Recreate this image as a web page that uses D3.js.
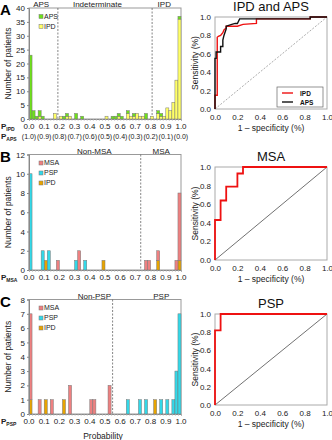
<!DOCTYPE html>
<html><head><meta charset="utf-8">
<script src="https://cdn.jsdelivr.net/npm/d3@7"></script>
<style>body{margin:0;background:#fff}svg{display:block;font-family:"Liberation Sans",Arial,sans-serif}</style>
</head><body><div id="chart"></div>
<script>
// histogram data: bin start (bins are 0.02 wide) and counts per group
var binA = [0.00,0.02,0.04,0.06,0.08,0.16,0.20,0.22,0.24,0.26,0.30,0.34,0.50,0.54,0.56,0.58,0.60,0.64,0.66,0.68,0.70,0.72,0.74,0.76,0.80,0.84,0.86,0.88,0.90,0.92,0.94,0.96,0.98];
var apsA = [23,3,1,2,1,0,0,1,1,0,2,1,0,1,1,1,1,1,0,1,0,0,0,2,0,1,1,0,0,0,0,0,1];
var ipdA = [0,0,0,1,0,2,1,0,1,1,0,0,1,0,0,1,0,2,1,1,2,1,1,0,1,2,1,1,4,3,6,14,36];

var binB = [0.00,0.08,0.10,0.12,0.18,0.30,0.32,0.36,0.48,0.76,0.78,0.84,0.96,0.98];
var msaB = [0,0,0,0,1,0,2,0,0,1,1,1,1,7];
var pspB = [10,2,0,2,0,1,0,1,0,0,0,0,0,0];
var ipdB = [0,0,1,0,0,0,0,0,1,0,0,1,0,1];

var binC = [0.00,0.06,0.10,0.14,0.22,0.26,0.40,0.42,0.52,0.64,0.72,0.76,0.82,0.86,0.90,0.94,0.96,0.98];
var msaC = [6,1,0,1,0,2,1,1,2,0,0,0,0,0,0,0,0,0];
var pspC = [0,0,0,0,0,0,0,0,0,1,1,1,0,1,1,1,3,7];
var ipdC = [1,0,1,0,1,0,0,0,0,0,0,0,1,0,0,0,0,0];

var xTicks = [0,0.1,0.2,0.3,0.4,0.5,0.6,0.7,0.8,0.9,1.0];
var apsTickLabels = ["(1.0)","(0.9)","(0.8)","(0.7)","(0.6)","(0.5)","(0.4)","(0.3)","(0.2)","(0.1)","(0.0)"];
var rocTicks = [0,0.2,0.4,0.6,0.8,1.0];

// ROC curves (false positive rate, true positive rate)
var fprIPD = [0,0,0.02,0.02,0.03,0.05,0.07,0.08,0.10,0.10,0.20,0.25,0.37,0.37,0.85,0.85,1];
var tprIPD = [0,0.15,0.15,0.78,0.79,0.80,0.83,0.86,0.88,0.90,0.90,0.92,0.93,0.98,0.98,1,1];
var fprAPS = [0,0,0.01,0.01,0.05,0.05,0.07,0.07,0.08,0.10,0.10,0.15,0.18,0.20,0.22,0.85,0.85,1];
var tprAPS = [0,0.55,0.55,0.62,0.62,0.68,0.68,0.75,0.80,0.87,0.90,0.92,0.93,0.93,0.98,0.98,1,1];
var fprMSA = [0,0,0.05,0.05,0.10,0.10,0.20,0.20,0.25,0.25,1];
var tprMSA = [0,0.43,0.43,0.64,0.64,0.79,0.79,0.93,0.93,1,1];
var fprPSP = [0,0,0.05,0.05,1];
var tprPSP = [0,0.82,0.82,1,1];

var col = {aps:"#6ee01a", ipdA:"#ffff66", msa:"#ee8080", psp:"#33d8e8", ipd:"#e8a400"};

var svg = d3.select("#chart").append("svg").attr("width",332).attr("height",440);
var x = d3.scaleLinear().domain([0,1]).range([29,181]);
var bw = x(0.02) - x(0);

function hist(o) {
  var g = svg.append("g");
  var y = d3.scaleLinear().domain([0,o.yMax]).range([o.bottom,o.top]);
  var rows = o.bins.map(function(b,i){
    var r = {bin:b};
    o.keys.forEach(function(k){ r[k] = o.vals[k][i]; });
    return r;
  });
  // frame
  g.append("rect").attr("x",x(0)).attr("y",o.top).attr("width",x(1)-x(0)).attr("height",o.bottom-o.top)
    .attr("fill","none").attr("stroke","#999").attr("stroke-width",1);
  // dashed dividers
  o.dash.forEach(function(d){
    g.append("line").attr("x1",x(d)).attr("x2",x(d)).attr("y1",o.top).attr("y2",o.bottom)
      .attr("stroke","#666").attr("stroke-width",0.8).attr("stroke-dasharray","2,1.5");
  });
  var stack = d3.stack().keys(o.keys)(rows);
  g.selectAll("g.s").data(stack).join("g").attr("fill",function(d){return o.colors[d.key];})
    .selectAll("rect").data(function(d){return d.filter(function(p){return p[1]>p[0];});}).join("rect")
    .attr("x",function(d){return x(d.data.bin);}).attr("width",bw)
    .attr("y",function(d){return y(d[1]);}).attr("height",function(d){return y(d[0])-y(d[1]);})
    .attr("stroke","#777").attr("stroke-width",0.5);
  // y axis
  var ya = g.append("g").attr("transform","translate("+x(0)+",0)")
    .call(d3.axisLeft(y).tickValues(o.yTicks).tickSize(2).tickPadding(2));
  ya.select(".domain").attr("stroke","#888");
  ya.selectAll("line").attr("stroke","#888");
  ya.selectAll("text").attr("font-size",8).attr("fill","#222");
  // x axis
  var xa = g.append("g").attr("transform","translate(0,"+o.bottom+")")
    .call(d3.axisBottom(x).tickValues(d3.range(0,1.001,0.02)).tickSize(1.5).tickFormat(""));
  xa.select(".domain").attr("stroke","#888");
  xa.selectAll("line").attr("stroke","#aaa");
  g.selectAll("text.xt").data(xTicks).join("text").attr("class","xt")
    .attr("x",function(d){return x(d);}).attr("y",o.bottom+10).attr("text-anchor","middle")
    .attr("font-size",8).attr("fill","#222").text(d3.format(".1f"));
  var p = g.append("text").attr("x",1).attr("y",o.bottom+10).attr("font-size",8).attr("font-weight","bold").attr("fill","#222");
  p.append("tspan").text("P");
  p.append("tspan").attr("font-size",5).attr("dy",1.5).text(o.psub);
  // y label
  g.append("text").attr("transform","translate(11,"+((o.top+o.bottom)/2)+") rotate(-90)")
    .attr("text-anchor","middle").attr("font-size",8.5).attr("fill","#222").text("Number of patients");
  // region labels
  o.regions.forEach(function(r){
    g.append("text").attr("x",x(r[1])).attr("y",o.top-1).attr("text-anchor","middle")
      .attr("font-size",8).attr("fill","#222").text(r[0]);
  });
  // letter
  g.append("text").attr("x",0).attr("y",o.top+7).attr("font-size",15).attr("font-weight","bold").text(o.letter);
  // legend
  o.legend.forEach(function(k,i){
    var ly = o.top + 10 + i*10;
    g.append("rect").attr("x",39).attr("y",ly-3.5).attr("width",4).attr("height",4)
      .attr("fill",o.colors[k[0]]).attr("stroke","#777").attr("stroke-width",0.5);
    g.append("text").attr("x",44).attr("y",ly+0.5).attr("font-size",7).attr("fill","#222").text(k[1]);
  });
  return g;
}

var gA = hist({top:8,bottom:119,yMax:40,yTicks:[0,5,10,15,20,25,30,35,40],bins:binA,
  keys:["ipd","aps"],vals:{ipd:ipdA,aps:apsA},colors:{ipd:col.ipdA,aps:col.aps},
  dash:[0.19,0.81],regions:[["APS",0.08],["Indeterminate",0.45],["IPD",0.89]],
  legend:[["aps","APS"],["ipd","IPD"]],letter:"A",psub:"IPD"});
var p2 = gA.append("text").attr("x",1).attr("y",139).attr("font-size",8).attr("font-weight","bold").attr("fill","#222");
p2.append("tspan").text("P");
p2.append("tspan").attr("font-size",5).attr("dy",1.5).text("APS");
gA.selectAll("text.xa").data(xTicks).join("text").attr("class","xa")
  .attr("x",function(d){return x(d);}).attr("y",139).attr("text-anchor","middle")
  .attr("font-size",7).attr("fill","#222").text(function(d,i){return apsTickLabels[i];});

hist({top:154.5,bottom:270,yMax:12,yTicks:[0,2,4,6,8,10,12],bins:binB,
  keys:["ipd","msa","psp"],vals:{ipd:ipdB,msa:msaB,psp:pspB},colors:{ipd:col.ipd,msa:col.msa,psp:col.psp},
  dash:[0.735],regions:[["Non-MSA",0.43],["MSA",0.87]],
  legend:[["msa","MSA"],["psp","PSP"],["ipd","IPD"]],letter:"B",psub:"MSA"});

hist({top:299.5,bottom:414,yMax:8,yTicks:[0,1,2,3,4,5,6,7,8],bins:binC,
  keys:["ipd","msa","psp"],vals:{ipd:ipdC,msa:msaC,psp:pspC},colors:{ipd:col.ipd,msa:col.msa,psp:col.psp},
  dash:[0.55],regions:[["Non-PSP",0.43],["PSP",0.87]],
  legend:[["msa","MSA"],["psp","PSP"],["ipd","IPD"]],letter:"C",psub:"PSP"});
svg.append("text").attr("x",103).attr("y",439).attr("text-anchor","middle").attr("font-size",8.5).attr("fill","#222").text("Probability");

function roc(o) {
  var g = svg.append("g");
  var rx = d3.scaleLinear().domain([0,1]).range([215,327]);
  var ry = d3.scaleLinear().domain([0,1]).range([o.bottom,o.top]);
  g.append("rect").attr("x",rx(0)).attr("y",ry(1)).attr("width",rx(1)-rx(0)).attr("height",ry(0)-ry(1))
    .attr("fill","none").attr("stroke","#aaa").attr("stroke-width",1);
  g.append("line").attr("x1",rx(0)).attr("y1",ry(0)).attr("x2",rx(1)).attr("y2",ry(1))
    .attr("stroke",o.diagDash?"#888":"#333").attr("stroke-width",0.7)
    .attr("stroke-dasharray",o.diagDash?"2,1.5":null);
  var line = d3.line().x(function(d){return rx(d[0]);}).y(function(d){return ry(d[1]);});
  o.curves.forEach(function(c){
    g.append("path").datum(d3.zip(c.fpr,c.tpr)).attr("d",line).attr("fill","none")
      .attr("stroke",c.color).attr("stroke-width",c.w).attr("stroke-linejoin","miter");
  });
  var ya = g.append("g").attr("transform","translate("+rx(0)+",0)")
    .call(d3.axisLeft(ry).tickValues(rocTicks).tickSize(0).tickPadding(4).tickFormat(d3.format(".1f")));
  ya.select(".domain").remove();
  ya.selectAll("text").attr("font-size",8).attr("fill","#222");
  var xa = g.append("g").attr("transform","translate(0,"+ry(0)+")")
    .call(d3.axisBottom(rx).tickValues(rocTicks).tickSize(0).tickPadding(5).tickFormat(d3.format(".1f")));
  xa.select(".domain").remove();
  xa.selectAll("text").attr("font-size",8).attr("fill","#222");
  g.append("text").attr("x",271).attr("y",o.top-6).attr("text-anchor","middle").attr("font-size",13).attr("fill","#111").text(o.title);
  g.append("text").attr("x",271).attr("y",o.bottom+22).attr("text-anchor","middle").attr("font-size",8.5).attr("fill","#222").text("1 \u2013 specificity (%)");
  g.append("text").attr("transform","translate(198,"+((o.top+o.bottom)/2)+") rotate(-90)")
    .attr("text-anchor","middle").attr("font-size",8.5).attr("fill","#222").text("Sensitivity (%)");
  return g;
}

var rA = roc({top:17,bottom:109,title:"IPD and APS",diagDash:true,curves:[
  {fpr:fprIPD,tpr:tprIPD,color:"#ee1111",w:1.4},
  {fpr:fprAPS,tpr:tprAPS,color:"#111",w:1.4}]});
rA.append("rect").attr("x",277).attr("y",87).attr("width",46).attr("height",20).attr("fill","#fff").attr("stroke","#666").attr("stroke-width",0.7);
[["IPD","#ee1111"],["APS","#111"]].forEach(function(e,i){
  var ly = 93 + i*9;
  rA.append("line").attr("x1",282).attr("x2",293).attr("y1",ly).attr("y2",ly).attr("stroke",e[1]).attr("stroke-width",1.4);
  rA.append("text").attr("x",300).attr("y",ly+2.5).attr("font-size",6.5).attr("font-weight","bold").attr("fill","#111").text(e[0]);
});
roc({top:167,bottom:260,title:"MSA",diagDash:false,curves:[{fpr:fprMSA,tpr:tprMSA,color:"#ee1111",w:1.8}]});
roc({top:314,bottom:405,title:"PSP",diagDash:false,curves:[{fpr:fprPSP,tpr:tprPSP,color:"#ee1111",w:1.8}]});
</script>
</body></html>
